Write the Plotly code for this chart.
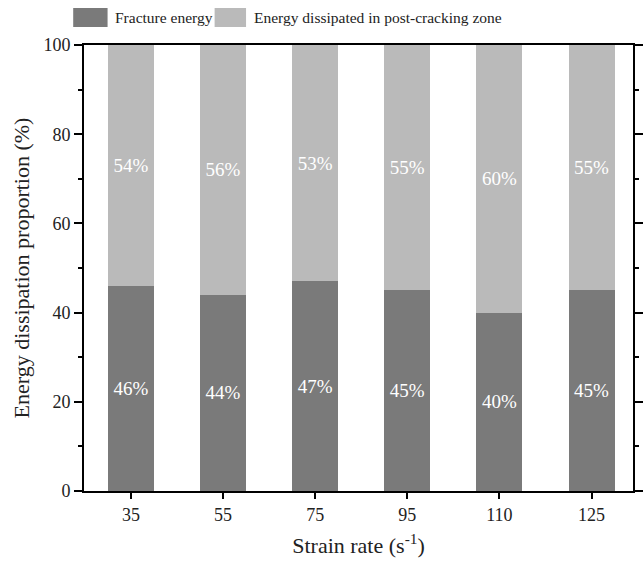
import plotly.graph_objects as go

categories = ["35", "55", "75", "95", "110", "125"]
fracture = [46, 44, 47, 45, 40, 45]
post_crack = [54, 56, 53, 55, 60, 55]
series_names = ["Fracture energy", "Energy dissipated in post-cracking zone"]
series_colors = ["#7a7a7a", "#bababa"]

font_family = "Liberation Serif"

fig = go.Figure()
for name, vals, col in zip(series_names, [fracture, post_crack], series_colors):
    fig.add_trace(go.Bar(
        x=categories, y=vals, name=name,
        marker=dict(color=col, line=dict(width=0)),
        text=[f"{v}%" for v in vals], textposition="inside",
        insidetextanchor="middle", textangle=0,
        textfont=dict(color="white", size=19, family=font_family),
        showlegend=False,
    ))

# custom legend with large swatches
W, H = 643, 566
ml, mr, mt, mb = 84, 0, 45, 75
pw, ph = W - ml - mr, H - mt - mb
def px_x(x):
    return (x - ml) / pw
def px_y(y):
    return (H - mb - y) / ph

legend_items = [(73, 108, 114), (217, 249, 255)]
for (x0, x1, tx), name, col in zip(legend_items, series_names, series_colors):
    fig.add_shape(type="rect", xref="paper", yref="paper",
                  x0=px_x(x0), x1=px_x(x1), y0=px_y(27), y1=px_y(8),
                  fillcolor=col, line=dict(width=0))
    fig.add_annotation(xref="paper", yref="paper", x=px_x(tx), y=px_y(17),
                       xanchor="left", yanchor="middle", showarrow=False,
                       text=name, font=dict(size=15.5, family=font_family, color="#222"))

fig.update_layout(
    barmode="stack",
    bargap=0.5,
    width=W, height=H,
    margin=dict(l=ml, r=mr, t=mt, b=mb),
    plot_bgcolor="white", paper_bgcolor="white",
    font=dict(family=font_family, size=17, color="#222"),
    showlegend=False,
    xaxis=dict(
        title=dict(text="Strain rate (s<sup>-1</sup>)", font=dict(size=22, family=font_family), standoff=14),
        range=[-0.51, 5.45],
        showline=True, linecolor="black", linewidth=2, mirror=True,
        ticks="outside", ticklen=6, tickwidth=1.5, tickcolor="black",
        minor=dict(ticks="outside", ticklen=5, tickwidth=1.5, tickcolor="black", showgrid=False),
        tickfont=dict(size=18, family=font_family),
        showgrid=False,
    ),
    yaxis=dict(
        title=dict(text="Energy dissipation proportion (%)", font=dict(size=22, family=font_family), standoff=8),
        range=[0, 100], tickvals=[0, 20, 40, 60, 80, 100],
        showline=True, linecolor="black", linewidth=2, mirror="ticks",
        ticks="outside", ticklen=8, tickwidth=1.5, tickcolor="black",
        minor=dict(dtick=10, ticks="outside", ticklen=4, tickwidth=1.5, tickcolor="black", showgrid=False),
        tickfont=dict(size=18, family=font_family),
        showgrid=False, zeroline=False,
    ),
)

fig.write_html("out.html")
